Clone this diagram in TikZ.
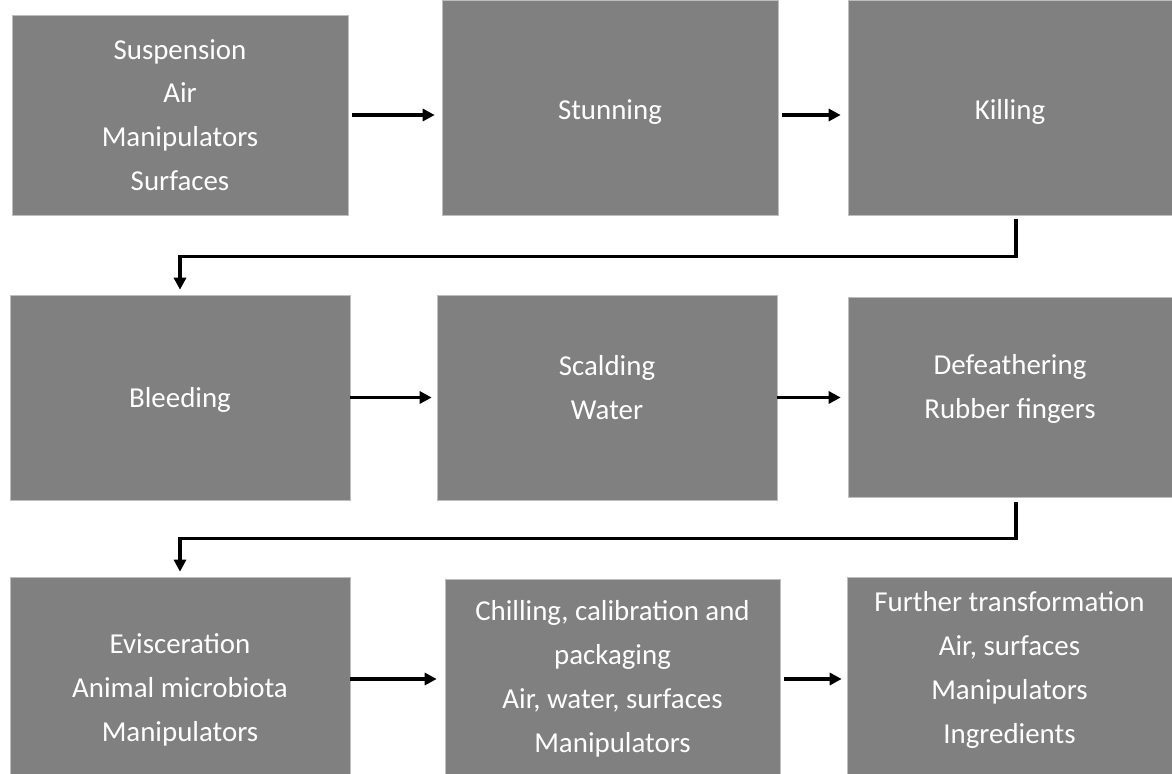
\documentclass[tikz,border=0pt]{standalone}
\usepackage{fontspec}
\setmainfont{Carlito}
\usetikzlibrary{arrows.meta}
\definecolor{boxgray}{RGB}{128,128,128}
\definecolor{edgegray}{RGB}{190,190,190}
\newcommand{\lstrut}{\rule[-0.269em]{0pt}{1.221em}}
\tikzset{
  box/.style={draw=edgegray, line width=0.6bp, fill=boxgray, inner sep=0pt},
  lbl/.style={text=white, align=center, inner sep=0pt, font=\fontsize{29}{44}\selectfont},
  arr/.style={line width=3.2bp, -{Triangle[length=12bp,width=12bp]}},
}
\begin{document}
\begin{tikzpicture}[x=1bp,y=-1bp]
\useasboundingbox (0,0) rectangle (1172,774);
\node[box, minimum width=336bp, minimum height=200bp] (b1) at (180,115) {};
\node[box, minimum width=336bp, minimum height=215bp] (b2) at (610,107.5) {};
\node[box, minimum width=324bp, minimum height=215bp] (b3) at (1010,107.5) {};
\node[box, minimum width=340bp, minimum height=205bp] (b4) at (180,397.5) {};
\node[box, minimum width=340bp, minimum height=205bp] (b5) at (607,397.5) {};
\node[box, minimum width=324bp, minimum height=200bp] (b6) at (1010,397) {};
\node[box, minimum width=340bp, minimum height=197bp] (b7) at (180,675.5) {};
\node[box, minimum width=335bp, minimum height=195bp] (b8) at (612.5,676.5) {};
\node[box, minimum width=325bp, minimum height=197bp] (b9) at (1009.5,675.5) {};

\node[lbl] (t1) at (b1.center) {\lstrut Suspension\\Air\\Manipulators\\Surfaces\lstrut};
\node[lbl, yshift=-2bp] (t2) at (b2.center) {\lstrut Stunning};
\node[lbl, yshift=-2bp] (t3) at (b3.center) {\lstrut Killing};
\node[lbl] (t4) at (b4.center) {\lstrut Bleeding};
\node[lbl, yshift=10bp] (t5) at (b5.center) {\lstrut Scalding\\Water\lstrut};
\node[lbl, yshift=10bp] (t6) at (b6.center) {\lstrut Defeathering\\Rubber fingers\lstrut};
\node[lbl, yshift=-12bp] (t7) at (b7.center) {\lstrut Evisceration\\Animal microbiota\\Manipulators\lstrut};
\node[lbl] (t8) at (b8.center) {\lstrut Chilling, calibration and\\packaging\\Air, water, surfaces\\Manipulators\lstrut};
\node[lbl, yshift=8bp] (t9) at (b9.center) {\lstrut Further transformation\\Air, surfaces\\Manipulators\\Ingredients\lstrut};

\draw[arr] ([xshift=4bp]b1.east) -- ([xshift=-7bp]b1.east -| b2.west);
\draw[arr] ([xshift=4bp,yshift=-7.5bp]b2.east) -- ([xshift=-7bp,yshift=-7.5bp]b2.east -| b3.west);
\draw[arr] (b4.east) -- ([xshift=-5bp]b4.east -| b5.west);
\draw[arr] (b5.east) -- ([xshift=-7bp]b5.east -| b6.west);
\draw[arr] ([yshift=-3.5bp]b7.east) -- ([xshift=-8bp,yshift=-3.5bp]b7.east -| b8.west);
\draw[arr] ([xshift=4bp,yshift=-2.5bp]b8.east) -- ([xshift=-5bp,yshift=-2.5bp]b8.east -| b9.west);

\draw[arr] ([xshift=6bp,yshift=-4bp]b3.south) -- ++(0,37) -| ([yshift=5bp]b4.north);
\draw[arr] ([xshift=6bp,yshift=-5bp]b6.south) -- ++(0,36) -| ([yshift=5bp]b7.north);
\end{tikzpicture}
\end{document}
